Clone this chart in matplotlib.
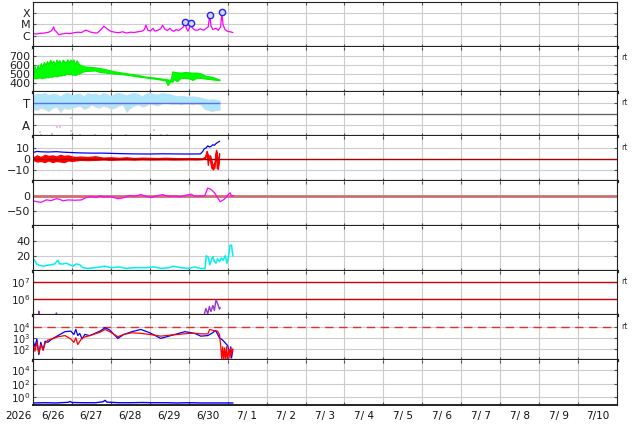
import numpy as np
import matplotlib
matplotlib.use("Agg")
import matplotlib.pyplot as plt
from matplotlib.ticker import NullLocator

# time axis: days since 2026-06-26 00:00
day_labels = ["6/26", "6/27", "6/28", "6/29", "6/30", "7/ 1", "7/ 2", "7/ 3",
              "7/ 4", "7/ 5", "7/ 6", "7/ 7", "7/ 8", "7/ 9", "7/10"]
year_label = "2026"

# X-ray flux (in units of 1e-6 W/m2)
xray_t = [0.00, 0.10, 0.20, 0.30, 0.40, 0.46, 0.50, 0.53, 0.56, 0.60, 0.66, 0.75, 0.85, 0.95,
          1.05, 1.15, 1.25, 1.33, 1.38, 1.45, 1.55, 1.65, 1.75, 1.82, 1.90, 2.00, 2.10, 2.20,
          2.30, 2.40, 2.50, 2.60, 2.70, 2.80, 2.86, 2.90, 2.95, 3.02, 3.08, 3.13, 3.20, 3.28,
          3.33, 3.38, 3.45, 3.52, 3.56, 3.62, 3.68, 3.74, 3.80, 3.86, 3.90, 3.94, 3.98, 4.02,
          4.05, 4.09, 4.15, 4.22, 4.30, 4.38, 4.45, 4.50, 4.54, 4.57, 4.62, 4.70, 4.76, 4.82,
          4.85, 4.88, 4.93, 5.00, 5.06, 5.13]
xray_v = [1.5, 1.4, 1.6, 1.7, 2.0, 2.5, 3.5, 6.0, 3.0, 2.2, 1.2, 1.4, 1.6, 1.5,
          1.8, 2.0, 1.9, 2.8, 3.0, 2.2, 1.8, 1.7, 3.5, 7.0, 4.0, 2.4, 2.0, 1.8,
          2.2, 1.7, 2.0, 1.9, 2.2, 2.5, 3.5, 8.5, 3.0, 2.6, 4.5, 2.5, 3.0, 4.0,
          8.5, 4.0, 2.8, 4.5, 3.0, 2.4, 3.5, 2.8, 4.0, 6.0, 15.5, 4.5, 2.5, 5.0,
          13.0, 5.0, 3.2, 3.0, 4.0, 3.0, 4.5, 6.0, 70.0, 8.0, 3.5, 4.5, 3.0, 6.0,
          120.0, 10.0, 3.5, 2.4, 2.2, 1.9]
flare_t = [3.90, 4.05, 4.54, 4.85]
flare_v = [15.5, 13.0, 70.0, 120.0]

# solar wind speed (km/s), lower / upper envelope
speed_t = [0.00, 0.04, 0.08, 0.12, 0.16, 0.20, 0.24, 0.28, 0.32, 0.36, 0.40, 0.44, 0.48, 0.52,
           0.56, 0.60, 0.64, 0.68, 0.72, 0.76, 0.80, 0.84, 0.88, 0.92, 0.96, 1.00, 1.04, 1.08,
           1.12, 1.16, 1.20, 1.26, 1.33, 1.45, 1.60, 1.70, 1.85, 2.00, 2.10, 2.25, 2.40, 2.55,
           2.70, 2.85, 3.00, 3.15, 3.30, 3.40, 3.46, 3.50, 3.54, 3.58, 3.62, 3.70, 3.80, 3.90,
           4.00, 4.10, 4.20, 4.30, 4.42, 4.52, 4.62, 4.72, 4.79]
speed_lo = [455, 450, 448, 452, 458, 455, 450, 460, 455, 462, 458, 470, 465, 472,
            478, 470, 475, 480, 478, 490, 485, 495, 500, 492, 498, 488, 490, 485,
            492, 500, 505, 520, 528, 532, 535, 520, 512, 505, 500, 495, 488, 478,
            468, 460, 450, 442, 432, 425, 372, 400, 412, 411, 440, 415, 455, 450,
            448, 430, 455, 452, 445, 440, 435, 430, 425]
speed_hi = [500, 590, 520, 600, 560, 619, 580, 630, 600, 640, 610, 655, 620, 645,
            600, 656, 630, 650, 610, 656, 640, 620, 660, 630, 655, 640, 660, 600,
            650, 620, 600, 590, 581, 575, 570, 563, 550, 535, 525, 515, 505, 495,
            485, 470, 462, 455, 445, 440, 435, 432, 440, 526, 520, 515, 512, 518,
            515, 510, 512, 505, 478, 470, 462, 445, 435]

# IMF sector (T = toward, A = away)
sect_t = [0.0, 0.1, 0.2, 0.3, 0.4, 0.5, 0.6, 0.7, 0.8, 0.9, 1.0, 1.1, 1.2, 1.3, 1.4, 1.5, 1.6,
          1.7, 1.8, 1.9, 2.0, 2.1, 2.2, 2.3, 2.4, 2.5, 2.6, 2.7, 2.8, 2.9, 3.0, 3.1, 3.2, 3.3,
          3.4, 3.5, 3.6, 3.7, 3.8, 3.9, 4.0, 4.1, 4.2, 4.3, 4.4, 4.5, 4.6, 4.7, 4.8]
sect_hi = [3.7, 3.85, 3.8, 3.9, 3.7, 3.85, 3.8, 3.6, 3.85, 3.9, 3.7, 3.8, 3.85, 3.6, 3.9, 3.8, 3.85,
           3.7, 3.9, 3.8, 3.6, 3.85, 3.9, 3.8, 3.7, 3.85, 3.9, 3.8, 3.6, 3.85, 3.9, 3.8, 3.75, 3.9,
           3.85, 3.8, 3.7, 3.6, 3.65, 3.6, 3.55, 3.6, 3.55, 3.5, 3.4, 3.3, 3.35, 3.3, 3.2]
sect_lo = [2.6, 2.4, 2.7, 2.5, 2.3, 2.6, 2.7, 2.4, 2.6, 2.5, 2.55, 2.7, 2.8, 2.5, 2.6, 2.9, 2.7,
           2.6, 2.8, 2.7, 2.5, 2.6, 2.8, 2.9, 2.3, 2.6, 2.8, 2.9, 2.7, 2.8, 3.0, 2.9, 2.8, 3.0,
           3.1, 3.0, 2.95, 3.0, 2.9, 2.95, 3.0, 2.9, 2.95, 2.9, 2.5, 2.4, 2.3, 2.35, 2.4]
sect_gray_lo = [2.4, 2.3, 2.5, 2.4, 2.2, 2.5, 2.6, 2.1, 2.5, 2.4, 2.5, 2.6, 2.7, 2.4, 2.5, 2.8, 2.6,
                2.5, 2.7, 2.6, 2.4, 2.5, 2.7, 2.8, 2.1, 2.5, 2.7, 2.8, 2.6, 2.7, 2.9, 2.8, 2.7, 2.9,
                3.0, 2.9, 2.85, 2.9, 2.8, 2.9, 2.9, 2.8, 2.9, 2.8, 2.4, 2.3, 2.2, 2.3, 2.3]
away_t = [0.18, 0.62, 0.69, 0.97, 0.98, 3.10]
away_v = [0.40, 0.85, 0.80, 0.45, 1.60, 0.55]
gray_dot_t = [0.20, 0.50, 0.97, 1.20, 1.60, 2.40, 3.30, 3.45]
gray_dot_v = [0.15, 0.20, 0.10, 0.15, 0.10, 0.10, 0.10, 0.10]

# IMF Bt (blue) and Bz envelope (red), nT
bt_t = [0.0, 0.1, 0.2, 0.4, 0.6, 0.8, 1.0, 1.2, 1.5, 1.8, 2.0, 2.3, 2.6, 3.0, 3.3, 3.6, 4.0,
        4.3, 4.36, 4.40, 4.44, 4.49, 4.53, 4.57, 4.62, 4.66, 4.70, 4.74, 4.79]
bt_v = [5.5, 6.5, 6.2, 6.0, 6.3, 5.8, 5.5, 5.2, 5.0, 5.0, 4.8, 4.5, 4.3, 4.2, 4.4, 4.3, 4.2,
        4.3, 6.5, 9.0, 9.5, 11.5, 10.5, 11.0, 12.5, 12.0, 13.5, 14.5, 15.5]
bz_t = [0.0, 0.1, 0.2, 0.3, 0.4, 0.5, 0.6, 0.7, 0.8, 0.9, 1.0, 1.1, 1.2, 1.4, 1.6, 1.8, 2.0,
        2.2, 2.4, 2.6, 2.8, 3.0, 3.2, 3.4, 3.6, 3.8, 4.0, 4.2, 4.35, 4.42, 4.46, 4.49, 4.52,
        4.55, 4.58, 4.62, 4.66, 4.70, 4.72, 4.75, 4.78]
bz_hi = [1.0, 3.0, 1.5, 3.5, 2.5, 3.0, 2.0, 3.5, 2.5, 3.0, 2.0, 1.5, 2.0, 1.5, 2.2, 1.0, 1.3,
         0.8, 1.3, 0.6, 1.0, 0.8, 0.6, 0.9, 0.6, 0.5, 0.6, 0.5, 0.3, 2.0, 7.0, 4.0, 2.5,
         3.0, -1.0, -6.0, -4.0, 8.0, 6.0, -7.0, 5.0]
bz_lo = [-1.0, -2.5, -2.0, -3.0, -1.5, -3.0, -2.0, -2.5, -3.0, -1.5, -2.0, -1.5, -1.0, -1.2, -1.0, -0.6, -1.0,
         -0.7, -0.6, -0.8, -0.5, -0.7, -0.6, -0.5, -0.7, -0.6, -0.5, -0.6, -0.3, 0.5, 5.0, -5.5, 1.0,
         -2.0, -8.0, -9.5, -8.0, 6.0, -8.5, -9.0, 3.0]

# Dst (nT)
dst_t = [0.00, 0.09, 0.21, 0.34, 0.47, 0.60, 0.69, 0.77, 0.90, 1.07, 1.24, 1.37, 1.50, 1.62,
         1.71, 1.84, 2.00, 2.18, 2.35, 2.48, 2.60, 2.77, 2.90, 3.03, 3.16, 3.33, 3.46, 3.63,
         3.80, 3.93, 4.06, 4.15, 4.32, 4.41, 4.49, 4.58, 4.66, 4.74, 4.81, 4.91, 5.00, 5.06,
         5.10, 5.15]
dst_v = [-16, -19, -21, -13, -15, -9, -11, -16, -13, -14, -13, -5, -2, -5,
         0, -3, -2, -9, -5, 2, -1, 5, -1, -5, 0, 5, -1, 0,
         -2, 3, 6, 0, 0, 1, 27, 21, 11, -5, -19, -11, 2, 11,
         0, 1]

# cyan index
cy_t = [0.00, 0.04, 0.09, 0.17, 0.26, 0.34, 0.47, 0.56, 0.62, 0.64, 0.68, 0.77, 0.85, 0.94,
        1.03, 1.11, 1.20, 1.28, 1.41, 1.60, 1.85, 2.00, 2.20, 2.40, 2.60, 2.90, 3.10, 3.30,
        3.50, 3.60, 3.80, 4.00, 4.15, 4.30, 4.42, 4.45, 4.50, 4.54, 4.58, 4.62, 4.66, 4.70,
        4.74, 4.79, 4.84, 4.88, 4.94, 4.98, 5.02, 5.06, 5.10, 5.13]
cy_v = [16, 14, 9, 7, 6, 7, 8, 9, 13, 14, 9, 9, 10, 8,
        6, 9, 8, 4, 3, 4, 6, 4, 5, 3, 4, 4, 5, 3,
        4, 6, 4, 3, 5, 3, 3, 20, 18, 8, 14, 19, 12, 10,
        16, 12, 17, 14, 20, 10, 18, 34, 34, 20]

# electron flux (log10)
el_t = [0.10, 0.14, 0.15, 0.17, 0.20, 0.55, 0.59, 0.60, 0.62, 0.65, 4.19, 4.40, 4.44,
        4.49, 4.53, 4.57, 4.62, 4.66, 4.70, 4.74, 4.79, 4.81]
el_log = [4.8, 5.0, 5.25, 5.0, 4.8, 4.8, 5.0, 5.15, 5.0, 4.8, 5.0, 5.05, 5.42,
          5.1, 5.54, 5.24, 5.6, 5.3, 5.95, 5.72, 5.38, 5.45]

# particle flux, two channels (log10)
pb_t = [0.00, 0.05, 0.10, 0.15, 0.20, 0.26, 0.31, 0.38, 0.49, 0.64, 0.82, 0.97, 1.05, 1.10,
        1.15, 1.20, 1.26, 1.33, 1.46, 1.59, 1.72, 1.85, 1.97, 2.08, 2.18, 2.33, 2.54, 2.77,
        3.00, 3.28, 3.54, 3.90, 4.15, 4.31, 4.49, 4.59, 4.69, 4.79, 4.87, 4.95, 5.00, 5.05,
        5.08, 5.10, 5.13]
pb_log = [2.78, 2.2, 2.9, 1.5, 2.6, 1.9, 2.7, 2.6, 2.9, 3.2, 3.55, 3.6, 3.3, 3.75,
          3.2, 3.4, 2.9, 3.3, 3.2, 3.4, 3.6, 3.9, 3.7, 3.3, 2.95, 3.3, 3.55, 3.75,
          3.45, 2.95, 3.2, 3.55, 3.4, 3.15, 3.2, 3.4, 3.65, 3.0, 2.8, 2.5, 2.3, 1.5,
          2.2, 1.2, 1.9]
pr_t = [0.00, 0.05, 0.10, 0.15, 0.20, 0.26, 0.31, 0.38, 0.49, 0.64, 0.82, 0.97, 1.05, 1.10,
        1.15, 1.26, 1.46, 1.59, 1.72, 1.85, 1.97, 2.18, 2.33, 2.54, 2.77, 3.00, 3.28, 3.54,
        3.72, 4.00, 4.15, 4.35, 4.49, 4.54, 4.64, 4.74, 4.79, 4.82, 4.85, 4.87, 4.90, 4.92,
        4.95, 4.97, 5.00, 5.03, 5.06, 5.08, 5.10, 5.13]
pr_log = [2.5, 1.8, 2.6, 1.6, 2.4, 1.9, 2.5, 2.8, 2.9, 3.1, 3.2, 2.9, 2.6, 3.0,
          2.4, 3.0, 3.2, 3.35, 3.5, 3.75, 3.55, 3.1, 3.3, 3.45, 3.4, 3.3, 3.15, 3.25,
          3.3, 3.4, 3.4, 3.35, 3.35, 3.75, 3.65, 3.6, 3.3, 2.3, 1.0, 2.2, 1.0, 2.1,
          1.0, 2.2, 1.0, 2.0, 1.2, 2.1, 1.5, 2.0]

# bottom panel flux
low_t = [0.0, 0.3, 0.6, 0.9, 0.95, 1.0, 1.3, 1.6, 1.8, 1.85, 1.9, 2.2, 2.5, 2.8, 3.1, 3.4,
         3.7, 4.0, 4.3, 4.6, 4.9, 5.13]
low_v = [0.12, 0.13, 0.12, 0.15, 0.2, 0.14, 0.13, 0.13, 0.18, 0.3, 0.16, 0.13, 0.13, 0.14,
         0.13, 0.13, 0.12, 0.13, 0.12, 0.12, 0.12, 0.12]

GRID = "#cccccc"
W, H = 634, 424

fig, axes = plt.subplots(9, 1, sharex=True, figsize=(W / 100, H / 100), dpi=100)
fig.subplots_adjust(left=33 / W, right=617 / W, top=1 - 2 / H, bottom=1 - 405 / H, hspace=0)

for i, ax in enumerate(axes):
    ax.set_xlim(0, 15)
    ax.set_xticks(np.arange(0, 16))
    ax.set_xticks(np.arange(0.5, 15), minor=True)
    ax.tick_params(axis="x", which="major", direction="in", length=2, labelbottom=False,
                   top=True, color="#555555")
    ax.tick_params(axis="x", which="minor", length=0, labelbottom=False)
    ax.tick_params(axis="y", direction="in", length=2, right=True, labelsize=8,
                   pad=2, labelcolor="#222222", color="#555555")
    ax.grid(True, which="major", color=GRID, lw=0.8)
    ax.set_axisbelow(True)
    for s in ax.spines.values():
        s.set_linewidth(0.8)
        s.set_color("#222222")
    if i < 8:
        ax.spines["bottom"].set_linewidth(2.3)
    if i > 0:
        ax.spines["top"].set_visible(False)

# 1: X-ray
ax = axes[0]
ax.set_yscale("log")
ax.plot(xray_t, np.array(xray_v) * 1e-6, color="#ff00ff", lw=0.9)
ax.plot(flare_t, np.array(flare_v) * 1e-6, "o", ms=4.5, mfc="#d8d8ff", mec="#2222ff", mew=1.0)
ax.set_ylim(1e-7, 1e-3)
ax.set_yticks([1e-6, 1e-5, 1e-4])
ax.set_yticklabels(["C", "M", "X"], fontsize=8)
ax.yaxis.set_minor_locator(NullLocator())

# 2: solar wind speed
ax = axes[1]
ax.fill_between(speed_t, speed_lo, speed_hi, color="#00ff00", lw=0.8, edgecolor="#00ee00")
ax.set_ylim(300, 800)
ax.set_yticks([400, 500, 600, 700])

# 3: sector
ax = axes[2]
ax.fill_between(sect_t, sect_gray_lo, sect_hi, color="#dcdcdc", lw=0)
ax.fill_between(sect_t, sect_lo, sect_hi, color="#aee6fb", lw=0)
ax.hlines(3, sect_t[0], sect_t[-1], color="#6070e8", lw=1.0)
ax.axhline(2, color="#666666", lw=1.0)
ax.scatter(away_t, away_v, s=4, marker="s", color="#f4b8f4", lw=0)
ax.scatter(gray_dot_t, gray_dot_v, s=4, marker="s", color="#c8c8c8", lw=0)
ax.set_ylim(0, 4)
ax.set_yticks([1, 3])
ax.set_yticklabels(["A", "T"], fontsize=8.5)

# 4: IMF
ax = axes[3]
ax.axhline(0, color="#aa0000", lw=1.0)
ax.plot(bt_t, bt_v, color="#0000ff", lw=0.9)
ax.fill_between(bz_t, bz_lo, bz_hi, color="#ff0000", edgecolor="#ff0000", lw=0.9)
ax.set_ylim(-20, 20)
ax.set_yticks([-10, 0, 10])

# 5: Dst
ax = axes[4]
ax.axhline(0, color="#cd6f6f", lw=2.0)
ax.plot(dst_t, dst_v, color="#ff00ff", lw=0.9)
ax.set_ylim(-100, 50)
ax.set_yticks([-50, 0])

# 6: cyan index
ax = axes[5]
ax.plot(cy_t, cy_v, color="#00f0f0", lw=1.1)
ax.set_ylim(0, 60)
ax.set_yticks([20, 40])

# 7: electron flux
ax = axes[6]
ax.set_yscale("log")
ax.axhline(1e7, color="#cc0000", lw=1.0)
ax.axhline(1e6, color="#cc0000", lw=1.0)
ax.plot(el_t, 10 ** np.array(el_log), color="#9933cc", lw=1.0)
ax.set_ylim(1e5, 5e7)
ax.set_yticks([1e6, 1e7])
ax.yaxis.set_minor_locator(NullLocator())

# 8: particle flux
ax = axes[7]
ax.set_yscale("log")
ax.axhline(1e4, color="#e03030", lw=1.0, dashes=(6, 4))
ax.plot(pb_t, 10 ** np.array(pb_log), color="#0000ff", lw=0.9)
ax.plot(pr_t, 10 ** np.array(pr_log), color="#ff0000", lw=0.9)
ax.set_ylim(1e1, 1e5)
ax.set_yticks([1e2, 1e3, 1e4])
ax.yaxis.set_minor_locator(NullLocator())

# 9: bottom flux
ax = axes[8]
ax.set_yscale("log")
ax.plot(low_t, low_v, color="#0000ff", lw=1.0)
ax.set_ylim(10 ** -1.23, 10 ** 5.54)
ax.set_yticks([1e0, 1e2, 1e4])
ax.yaxis.set_minor_locator(NullLocator())
ax.spines["bottom"].set_linewidth(1.4)
ax.set_xticklabels(day_labels, minor=True)
ax.tick_params(axis="x", which="minor", labelbottom=True, labelsize=7.5, pad=4,
               labelcolor="#111111")

axes[6].tick_params(axis="y", labelsize=7.5)
axes[7].tick_params(axis="y", labelsize=7)
axes[8].tick_params(axis="y", labelsize=7.5)

fig.text(18 / W, 1 - 416 / H, year_label, ha="center", va="center", fontsize=7.5,
         color="#111111")

for i in [1, 2, 3, 6, 7]:
    axes[i].text(1.008, 0.76, "rt", transform=axes[i].transAxes, fontsize=5.5,
                 ha="left", va="center", color="#333333")

fig.savefig("out.png", dpi=100)
